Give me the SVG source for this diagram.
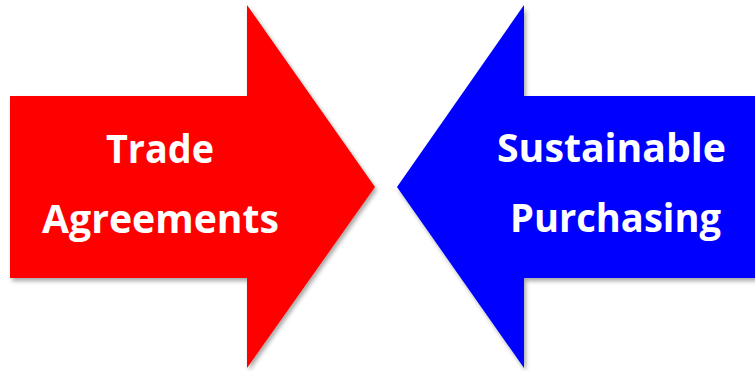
<svg xmlns="http://www.w3.org/2000/svg" width="755" height="371" viewBox="0 0 755 371">
  <defs>
    <filter id="shadow" x="-10%" y="-10%" width="120%" height="120%">
      <feDropShadow dx="2" dy="3" stdDeviation="2" flood-color="#000" flood-opacity="0.35"/>
    </filter>
  </defs>
  <style>
    .lbl { font-family: "Open Sans", "Liberation Sans", sans-serif; font-weight: bold; font-size: 39px; fill: #ffffff; text-anchor: middle; }
  </style>
  <rect width="755" height="371" fill="#ffffff"/>
  <g id="trade-agreements">
    <polygon points="10,96 247,96 247,5 375,187 247,368 247,278 10,278" fill="#ff0000" filter="url(#shadow)"/>
    <text class="lbl" x="160" y="163" textLength="108" lengthAdjust="spacingAndGlyphs">Trade</text>
    <text class="lbl" x="160.5" y="233" textLength="237" lengthAdjust="spacingAndGlyphs">Agreements</text>
  </g>
  <g id="sustainable-purchasing">
    <polygon points="760,96 524,96 524,5 397,187 524,368 524,278 760,278" fill="#0000ff" filter="url(#shadow)"/>
    <text class="lbl" x="611.5" y="162" textLength="229" lengthAdjust="spacingAndGlyphs">Sustainable</text>
    <text class="lbl" x="615.5" y="232" textLength="211" lengthAdjust="spacingAndGlyphs">Purchasing</text>
  </g>
  <g id="connectors"/>
</svg>
